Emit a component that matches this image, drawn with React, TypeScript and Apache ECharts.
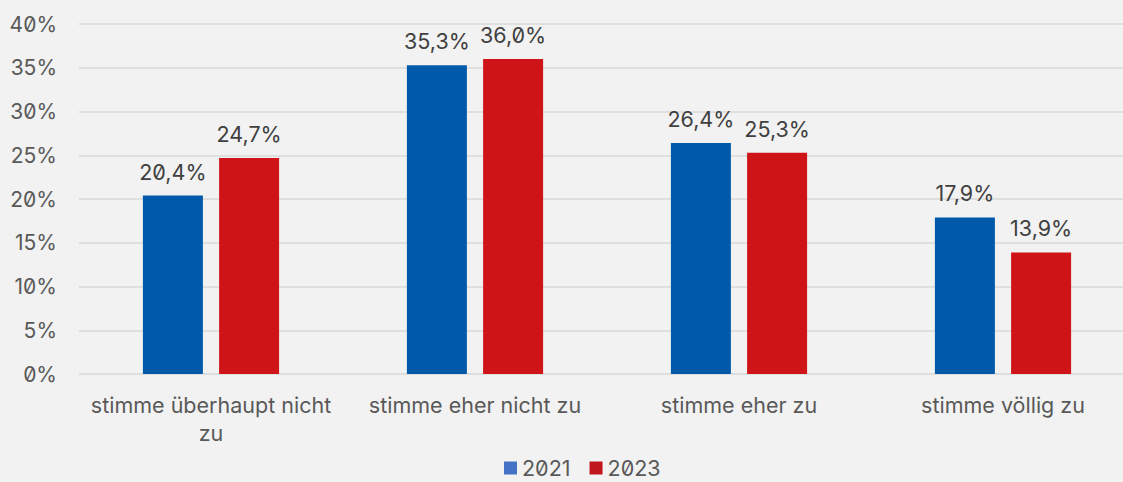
import React, { useEffect, useRef } from "react";
import * as echarts from "echarts";

const categories = [
  "stimme überhaupt nicht\nzu",
  "stimme eher nicht zu",
  "stimme eher zu",
  "stimme völlig zu",
];
const values2021 = [20.4, 35.3, 26.4, 17.9];
const values2023 = [24.7, 36.0, 25.3, 13.9];
const seriesNames = ["2021", "2023"];

const FONT = "Inter, 'Noto Sans', sans-serif";

const fmt = (v: number) => v.toFixed(1).replace(".", ",") + "%";

export default function App() {
  const ref = useRef<HTMLDivElement>(null);
  useEffect(() => {
    const chart = echarts.init(ref.current!, null, { renderer: "svg" });
    chart.setOption({
      animation: false,
      backgroundColor: "#f2f2f2",
      textStyle: { fontFamily: FONT },
      grid: { left: 79, top: 24, right: 0, bottom: 108, containLabel: false },
      legend: {
        top: 457,
        left: 504,
        padding: 0,
        itemWidth: 13,
        itemHeight: 13,
        itemGap: 19,
        icon: "rect",
        textStyle: { fontFamily: FONT, fontSize: 21.5, lineHeight: 20, color: "#595959" },
        data: [
          { name: seriesNames[0], itemStyle: { color: "#4472C4" } },
          { name: seriesNames[1], itemStyle: { color: "#C0171C" } },
        ],
      },
      xAxis: {
        type: "category",
        data: categories,
        axisLine: { show: false },
        axisTick: { show: false },
        axisLabel: {
          fontFamily: FONT,
          fontSize: 21.5,
          color: "#595959",
          margin: 17,
          lineHeight: 28,
          interval: 0,
        },
      },
      yAxis: {
        type: "value",
        min: 0,
        max: 40,
        interval: 5,
        axisLine: { show: false },
        axisTick: { show: false },
        splitLine: { lineStyle: { color: "#d9d9d9", width: 1.5 } },
        axisLabel: {
          fontFamily: FONT,
          fontSize: 21,
          color: "#595959",
          margin: 22,
          formatter: (v: number) => v + "%",
        },
      },
      series: [
        {
          name: seriesNames[0],
          type: "bar",
          data: values2021,
          barWidth: 60,
          barGap: "27%",
          itemStyle: { color: "#005AA9" },
          label: {
            show: true,
            position: "top",
            distance: 13,
            fontFamily: FONT,
            fontSize: 21.5,
            color: "#404040",
            formatter: (p: any) => fmt(p.value),
          },
        },
        {
          name: seriesNames[1],
          type: "bar",
          data: values2023,
          barWidth: 60,
          itemStyle: { color: "#CE1417" },
          label: {
            show: true,
            position: "top",
            distance: 13,
            fontFamily: FONT,
            fontSize: 21.5,
            color: "#404040",
            formatter: (p: any) => fmt(p.value),
          },
        },
      ],
    });
    return () => chart.dispose();
  }, []);
  return (
    <div
      style={{
        position: "fixed",
        left: 0,
        top: 0,
        width: 1123,
        height: 482,
        overflow: "hidden",
        background: "#f2f2f2",
      }}
    >
      <div
        ref={ref}
        style={{
          width: 1135,
          height: 482,
          fontFeatureSettings: '"zero" 1',
        }}
      />
    </div>
  );
}
